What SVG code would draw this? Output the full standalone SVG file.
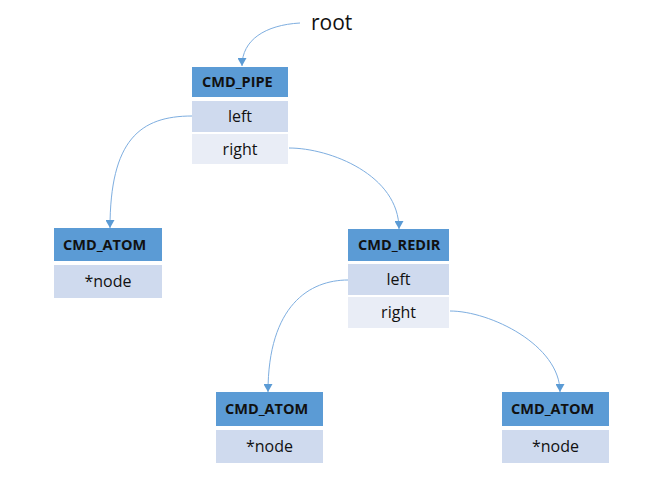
<svg xmlns="http://www.w3.org/2000/svg" width="660" height="500" viewBox="0 0 660 500">
<style>
.hd{fill:#5b9bd5}
.r1{fill:#cfdaee}
.r2{fill:#e9edf6}
.ht{font-family:"Open Sans",sans-serif;font-weight:bold;font-size:14.5px;fill:#111}
.rt{font-family:"Open Sans",sans-serif;font-size:16px;fill:#111;text-anchor:middle}
.con{fill:none;stroke:#7eaee0;stroke-width:1}
</style>
<defs>
<marker id="ah" markerUnits="userSpaceOnUse" markerWidth="9" markerHeight="9" refX="8" refY="4.5" orient="auto">
<path d="M0,0 L8,4.5 L0,9 z" fill="#5b9bd5"/>
</marker>
</defs>
<rect width="660" height="500" fill="#fff"/>
<text x="311" y="30" font-family="'Open Sans',sans-serif" font-size="21" fill="#111">root</text>
<g id="connectors">
<path class="con" d="M300,23 C265,25 242,40 242,66" marker-end="url(#ah)"/>
<path class="con" d="M192,116 C140,116 110,140 110,228" marker-end="url(#ah)"/>
<path class="con" d="M289,148 C330,148 399,175 399,229" marker-end="url(#ah)"/>
<path class="con" d="M348,280 C310,280 268,305 268,392" marker-end="url(#ah)"/>
<path class="con" d="M450,311 C490,311 560,345 560,392" marker-end="url(#ah)"/>
</g>
<g id="cmd_pipe">
<rect class="hd" x="192" y="67" width="96" height="30"/>
<rect class="r1" x="192" y="101" width="96" height="31"/>
<rect class="r2" x="192" y="134" width="96" height="30"/>
<text class="ht" x="202" y="87">CMD_PIPE</text>
<text class="rt" x="240" y="122">left</text>
<text class="rt" x="240" y="155">right</text>
</g>
<g id="cmd_atom_1">
<rect class="hd" x="54" y="228" width="108" height="33"/>
<rect class="r1" x="54" y="265" width="108" height="33"/>
<text class="ht" x="63" y="250">CMD_ATOM</text>
<text class="rt" x="108" y="287">*node</text>
</g>
<g id="cmd_redir">
<rect class="hd" x="348" y="229" width="101" height="32"/>
<rect class="r1" x="348" y="264" width="101" height="31"/>
<rect class="r2" x="348" y="297" width="101" height="31"/>
<text class="ht" x="358" y="250">CMD_REDIR</text>
<text class="rt" x="398.5" y="285">left</text>
<text class="rt" x="398.5" y="318">right</text>
</g>
<g id="cmd_atom_2">
<rect class="hd" x="216" y="392" width="107" height="34"/>
<rect class="r1" x="216" y="430" width="107" height="33"/>
<text class="ht" x="225" y="414">CMD_ATOM</text>
<text class="rt" x="269.5" y="452">*node</text>
</g>
<g id="cmd_atom_3">
<rect class="hd" x="502" y="392" width="107" height="34"/>
<rect class="r1" x="502" y="430" width="107" height="33"/>
<text class="ht" x="511" y="414">CMD_ATOM</text>
<text class="rt" x="555.5" y="452">*node</text>
</g>
</svg>
